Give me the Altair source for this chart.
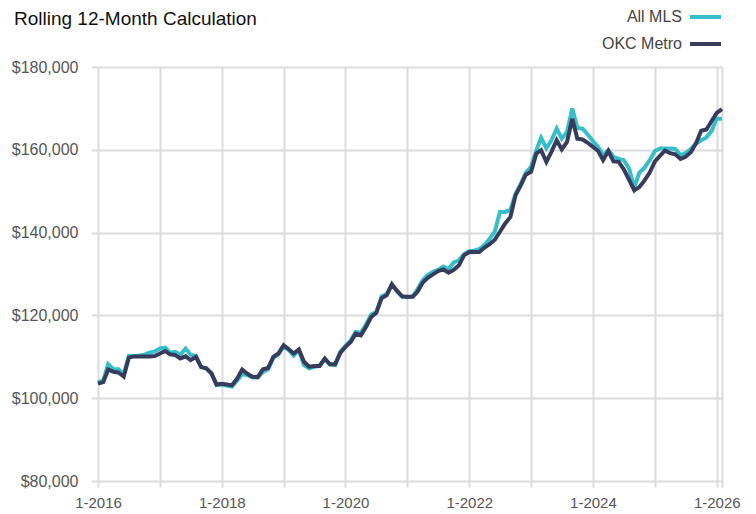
import altair as alt
import pandas as pd

TITLE = "Rolling 12-Month Calculation"
SERIES = ["All MLS", "OKC Metro"]
COLORS = ["#35BFCA", "#383C5C"]
FIRST_MONTH = "2016-01-01"
Y_TICKS = [80000, 100000, 120000, 140000, 160000, 180000]

all_mls = [
    103800, 104300, 108200, 107000, 107000, 105800, 110200, 110200, 110300, 110500, 111000, 111300,
    112000, 112200, 111000, 111200, 110500, 112000, 110500, 110200, 107500, 107200, 106000, 103200,
    103300, 103000, 102800, 104200, 105800, 105600, 105000, 105000, 106300, 107000, 109700, 110600,
    112500, 111600, 110300, 111600, 108000, 107200, 107600, 107800, 109400, 108200, 108000, 111200,
    112600, 114000, 116000, 115800, 117800, 120200, 120800, 124600, 125200, 127500, 125800, 124500,
    124400, 124600, 126300, 128500, 129800, 130500, 131000, 131800, 131200, 132800, 133300, 134800,
    135500, 135700, 136000, 137000, 138500, 140300, 145000, 145000, 145500, 149400, 151800, 154500,
    155900, 159900, 162900, 160400, 162300, 165100, 162700, 164300, 170000, 165300, 165100, 163700,
    162100, 160700, 158700, 159900, 158300, 157800, 157500, 155500, 150800, 154500, 155700, 157500,
    159700, 160300, 160300, 160300, 160200, 158700, 159200, 160200, 161500, 162300, 163000, 164500,
    167500, 167500,
]
okc_metro = [
    103500, 103900, 106900, 106400, 106200, 105200, 109800, 110100, 110100, 110100, 110100, 110200,
    110800, 111400, 110600, 110400, 109600, 110100, 109200, 110000, 107500, 107200, 106000, 103300,
    103500, 103300, 103100, 104700, 106900, 105900, 105200, 105100, 107000, 107300, 110000, 110800,
    112800, 111800, 110800, 111800, 108800, 107600, 107800, 107800, 109600, 108200, 108200, 110900,
    112400, 113600, 115600, 115200, 117200, 119600, 120600, 124100, 124900, 127500, 125900, 124600,
    124500, 124500, 125700, 127900, 129100, 129900, 130700, 131100, 130300, 131000, 132100, 134500,
    135300, 135300, 135300, 136400, 137200, 138300, 140200, 142200, 143800, 149000, 151400, 154000,
    154700, 159100, 159900, 157100, 159500, 162300, 160100, 161900, 167500, 162700, 162500, 161700,
    160700, 159700, 157500, 159700, 157200, 157100, 155300, 152800, 150200, 151000, 152600, 154500,
    157200, 158600, 159800, 159200, 158900, 157800, 158300, 159400, 161600, 164600, 164900, 166900,
    168900, 169800,
]

n = len(okc_metro)
months = pd.date_range(FIRST_MONTH, periods=n, freq="MS").strftime("%Y-%m-%d").tolist()
df = pd.DataFrame({
    "date": months + months,
    "series": [SERIES[0]] * n + [SERIES[1]] * n,
    "value": all_mls + okc_metro,
})
legend_df = pd.DataFrame({"series": SERIES})

FONT = "Liberation Sans, Arial, sans-serif"
GRID = "#dcdcdc"

x_values = [alt.DateTime(year=y, month=1, date=1, utc=True) for y in range(2016, 2027)]
x_values.append(alt.DateTime(year=2026, month=2, date=1, utc=True))

color = alt.Color("series:N", scale=alt.Scale(domain=SERIES, range=COLORS), legend=None)

x_enc = alt.X(
    "date:T",
    scale=alt.Scale(type="utc", domain=[alt.DateTime(year=2016, month=1, date=1, utc=True),
                                        alt.DateTime(year=2026, month=2, date=1, utc=True)], nice=False),
    axis=alt.Axis(
        values=x_values,
        labelExpr="utcmonth(datum.value) == 0 && utcyear(datum.value) % 2 == 0 ? '1-' + utcyear(datum.value) : ''",
        tickSize=6, labelPadding=8, grid=True, domain=False, title=None,
        labelOverlap=False, labelFlush=False, labelFontSize=15,
    ),
)
y_enc = alt.Y(
    "value:Q",
    scale=alt.Scale(domain=[80000, 180000], nice=False, zero=False),
    axis=alt.Axis(values=Y_TICKS, format="$,.0f", tickSize=7, labelPadding=13,
                  grid=True, domain=False, title=None, labelFontSize=16),
)

base = alt.Chart(df)
line_mls = base.transform_filter(alt.datum.series == SERIES[0]).mark_line(strokeWidth=4).encode(
    x=x_enc, y=y_enc, color=color)
line_okc = base.transform_filter(alt.datum.series == SERIES[1]).mark_line(strokeWidth=4).encode(
    x=x_enc, y=y_enc, color=color)
lines = alt.layer(line_mls, line_okc)

leg_y = alt.Y("series:N", scale=alt.Scale(type="point", domain=SERIES, range=[-50, -23], padding=0),
              axis=None)
leg_rule = alt.Chart(legend_df).mark_rule(strokeWidth=4).encode(
    x=alt.value(592), x2=alt.value(623), y=leg_y, color=color)
leg_text = alt.Chart(legend_df).mark_text(align="right", baseline="middle", fontSize=16,
                                          font=FONT, color="#444444").encode(
    x=alt.value(584), y=leg_y, text="series:N")

chart = alt.layer(lines, leg_rule, leg_text).resolve_scale(y="independent").properties(
    width=624, height=414,
    autosize=alt.AutoSizeParams(type="none"),
    padding={"left": 90, "top": 59, "right": 26, "bottom": 33},
    title=alt.TitleParams(TITLE, anchor="start", frame="group", fontSize=19, font=FONT,
                          fontWeight="normal", color="#111111", dx=-84, dy=20, offset=0),
).configure_view(stroke=None).configure_axis(
    gridColor=GRID, gridWidth=2, tickColor=GRID, tickWidth=2,
    labelFont=FONT, labelColor="#555555",
)

chart.save("out.html", embed_options={"renderer": "svg", "actions": False})
